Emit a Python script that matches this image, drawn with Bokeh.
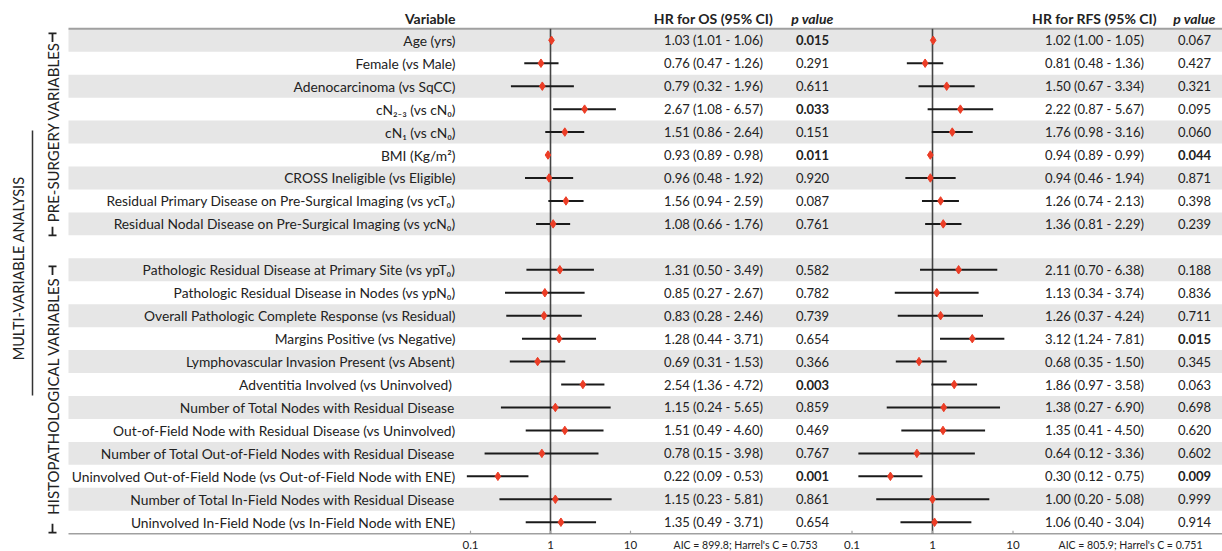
import math
from bokeh.plotting import figure
from bokeh.models import ColumnDataSource, Range1d, LogScale
from bokeh.core.properties import value
from bokeh.embed import file_html
from bokeh.resources import INLINE

# ---------------- data ----------------
variables = [
    "Age (yrs)",
    "Female (vs Male)",
    "Adenocarcinoma (vs SqCC)",
    "cN\u2082\u208b\u2083 (vs cN\u2080)",
    "cN\u2081 (vs cN\u2080)",
    "BMI (Kg/m\u00b2)",
    "CROSS Ineligible (vs Eligible)",
    "Residual Primary Disease on Pre-Surgical Imaging (vs ycT\u2080)",
    "Residual Nodal Disease on Pre-Surgical Imaging (vs ycN\u2080)",
    "Pathologic Residual Disease at Primary Site (vs ypT\u2080)",
    "Pathologic Residual Disease in Nodes (vs ypN\u2080)",
    "Overall Pathologic Complete Response (vs Residual)",
    "Margins Positive (vs Negative)",
    "Lymphovascular Invasion Present (vs Absent)",
    "Adventitia  Involved (vs Uninvolved)",
    "Number of Total Nodes with Residual Disease",
    "Out-of-Field Node with Residual Disease (vs Uninvolved)",
    "Number of Total Out-of-Field Nodes with Residual Disease",
    "Uninvolved Out-of-Field Node (vs Out-of-Field Node with ENE)",
    "Number of Total In-Field Nodes with Residual Disease",
    "Uninvolved In-Field Node (vs In-Field Node with ENE)",
]
pre_surgery_count = 9
group_titles = ["PRE-SURGERY VARIABLES", "HISTOPATHOLOGICAL VARIABLES"]
analysis_title = "MULTI-VARIABLE ANALYSIS"

os_hr = [1.03, 0.76, 0.79, 2.67, 1.51, 0.93, 0.96, 1.56, 1.08,
         1.31, 0.85, 0.83, 1.28, 0.69, 2.54, 1.15, 1.51, 0.78, 0.22, 1.15, 1.35]
os_lo = [1.01, 0.47, 0.32, 1.08, 0.86, 0.89, 0.48, 0.94, 0.66,
         0.50, 0.27, 0.28, 0.44, 0.31, 1.36, 0.24, 0.49, 0.15, 0.09, 0.23, 0.49]
os_hi = [1.06, 1.26, 1.96, 6.57, 2.64, 0.98, 1.92, 2.59, 1.76,
         3.49, 2.67, 2.46, 3.71, 1.53, 4.72, 5.65, 4.60, 3.98, 0.53, 5.81, 3.71]
os_p = [0.015, 0.291, 0.611, 0.033, 0.151, 0.011, 0.920, 0.087, 0.761,
        0.582, 0.782, 0.739, 0.654, 0.366, 0.003, 0.859, 0.469, 0.767, 0.001, 0.861, 0.654]

rfs_hr = [1.02, 0.81, 1.50, 2.22, 1.76, 0.94, 0.94, 1.26, 1.36,
          2.11, 1.13, 1.26, 3.12, 0.68, 1.86, 1.38, 1.35, 0.64, 0.30, 1.00, 1.06]
rfs_lo = [1.00, 0.48, 0.67, 0.87, 0.98, 0.89, 0.46, 0.74, 0.81,
          0.70, 0.34, 0.37, 1.24, 0.35, 0.97, 0.27, 0.41, 0.12, 0.12, 0.20, 0.40]
rfs_hi = [1.05, 1.36, 3.34, 5.67, 3.16, 0.99, 1.94, 2.13, 2.29,
          6.38, 3.74, 4.24, 7.81, 1.50, 3.58, 6.90, 4.50, 3.36, 0.75, 5.08, 3.04]
rfs_p = [0.067, 0.427, 0.321, 0.095, 0.060, 0.044, 0.871, 0.398, 0.239,
         0.188, 0.836, 0.711, 0.015, 0.345, 0.063, 0.698, 0.620, 0.602, 0.009, 0.999, 0.914]

os_stats = "AIC = 899.8; Harrel's C = 0.753"
rfs_stats = "AIC = 805.9; Harrel's C = 0.751"
ticks = [0.1, 1, 10]
tick_labels = ["0.1", "1", "10"]

# ---------------- layout ----------------
W, H = 1222, 551
rows_all = variables[:pre_surgery_count] + [""] + variables[pre_surgery_count:]
ypos = [rows_all.index(v) for v in variables]
band_rows = [i for i in range(len(rows_all)) if i % 2 == 0]
n_rows = len(rows_all)

PITCH = 22.95
TOP = 28.3
y0 = -0.5 - TOP / PITCH
yr = Range1d(y0 + H / PITCH, y0)


def ypx(px):
    return y0 + px / PITCH


HEADER_Y = ypx(18)
TICK_Y = ypx(544)
BOTTOM = n_rows - 0.5

FONT = value("Lato")
TXT = "#222222"
BAND = "#e6e6e6"
RULE = "#a0a0a0"
RED = "#ec3d26"


def log_range(one_px, decade_px):
    # horizontal calibration of a forest panel inside the full-width frame
    return Range1d(10 ** (-one_px / decade_px), 10 ** ((W - one_px) / decade_px))


p = figure(width=W, height=H, x_range=Range1d(0, W), y_range=yr,
           x_axis_location=None, y_axis_location=None,
           toolbar_location=None, output_backend="svg", min_border=0)
p.outline_line_color = None
p.xgrid.visible = False
p.ygrid.visible = False
p.extra_x_ranges = {"os": log_range(550, 80.0), "rfs": log_range(932, 80.5)}
p.extra_x_scales = {"os": LogScale(), "rfs": LogScale()}

# bands and rules
LEFT = 68
p.hbar(y=band_rows, left=LEFT, right=W, height=1, fill_color=BAND, line_color=None)
p.segment(x0=[LEFT], x1=[W], y0=[-0.5], y1=[-0.5], line_color=RULE, line_width=2)
p.segment(x0=[LEFT], x1=[W], y0=[BOTTOM], y1=[BOTTOM], line_color=RULE, line_width=1.5)

# variable labels
p.text(x=[455] * len(variables), y=ypos, text=variables, text_align="right",
       text_baseline="middle", text_font=FONT, text_font_size="13.8px", text_color=TXT)
p.text(x=[455], y=[HEADER_Y], text=["Variable"], text_align="right",
       text_baseline="middle", text_font=FONT, text_font_size="14px",
       text_font_style="bold", text_color=TXT)

# left group titles
p.text(x=[18], y=[9.94], text=[analysis_title], angle=math.pi / 2,
       text_align="center", text_baseline="middle", text_font=FONT,
       text_font_size="14.5px", text_color=TXT)
p.segment(x0=[32], x1=[32], y0=[3.93], y1=[15.48], line_color="#333333", line_width=1.5)

grp_first = [0, pre_surgery_count + 1]
grp_last = [pre_surgery_count - 1, n_rows - 1]
grp_mid = [(a + b) / 2 for a, b in zip(grp_first, grp_last)]
p.text(x=[52, 52], y=grp_mid, text=group_titles,
       angle=math.pi / 2, text_align="center", text_baseline="middle",
       text_font=FONT, text_font_size="15px", text_color=TXT)
bar_top = [grp_first[0] - 0.3, grp_first[1] - 0.15]
bar_bot = [grp_last[0] + 0.5, grp_last[1] + 0.45]
p.segment(x0=[48] * 4, x1=[56] * 4, y0=bar_top + bar_bot, y1=bar_top + bar_bot,
          line_color=TXT, line_width=1.8)
p.segment(x0=[52] * 4, x1=[52] * 4, y0=bar_top + bar_bot,
          y1=[b + 0.38 for b in bar_top] + [b - 0.38 for b in bar_bot],
          line_color=TXT, line_width=1.8)


def forest(name, hr, lo, hi):
    src = ColumnDataSource(dict(y=ypos, hr=hr, lo=lo, hi=hi))
    p.segment(x0=[1], x1=[1], y0=[-0.5], y1=[BOTTOM], line_color="#444444",
              line_width=1.6, x_range_name=name)
    p.segment(x0="lo", x1="hi", y0="y", y1="y", source=src, line_color="#1a1a1a",
              line_width=2, x_range_name=name)
    p.scatter(x="hr", y="y", source=src, marker="diamond", size=8.5,
              fill_color=RED, line_color=RED, line_width=1, x_range_name=name)
    p.segment(x0=ticks, x1=ticks, y0=[BOTTOM] * 3, y1=[BOTTOM - 0.13] * 3,
              line_color=RULE, line_width=1.2, x_range_name=name)
    p.text(x=ticks, y=[TICK_Y] * 3, text=tick_labels, text_align="center",
           text_baseline="middle", text_font=FONT, text_font_size="11.5px",
           text_color=TXT, x_range_name=name)


def table(hr, lo, hi, pv, title, stats, hr_x, p_x, stats_x):
    src = ColumnDataSource(dict(
        y=ypos,
        ci=[f"{a:.2f} ({b:.2f} - {c:.2f})" for a, b, c in zip(hr, lo, hi)],
        pt=[f"{v:.3f}" for v in pv],
        ps=["bold" if v < 0.05 else "normal" for v in pv],
    ))
    p.text(x=hr_x, y="y", text="ci", source=src, text_align="center",
           text_baseline="middle", text_font=FONT, text_font_size="13px", text_color=TXT)
    p.text(x=p_x, y="y", text="pt", source=src, text_align="center",
           text_baseline="middle", text_font=FONT, text_font_size="13px",
           text_font_style="ps", text_color=TXT)
    p.text(x=[hr_x], y=[HEADER_Y], text=[title], text_align="center",
           text_baseline="middle", text_font=FONT, text_font_size="14px",
           text_font_style="bold", text_color=TXT)
    p.text(x=[p_x], y=[HEADER_Y], text=["p value"], text_align="center",
           text_baseline="middle", text_font=FONT, text_font_size="14px",
           text_font_style="bold italic", text_color=TXT)
    p.text(x=[stats_x], y=[TICK_Y], text=[stats], text_align="center",
           text_baseline="middle", text_font=FONT, text_font_size="10.5px", text_color=TXT)


forest("os", os_hr, os_lo, os_hi)
table(os_hr, os_lo, os_hi, os_p, "HR for OS (95% CI)", os_stats, 713, 812, 745)
forest("rfs", rfs_hr, rfs_lo, rfs_hi)
table(rfs_hr, rfs_lo, rfs_hi, rfs_p, "HR for RFS (95% CI)", rfs_stats, 1094, 1194, 1130)

open("out.html", "w").write(file_html(p, INLINE))
